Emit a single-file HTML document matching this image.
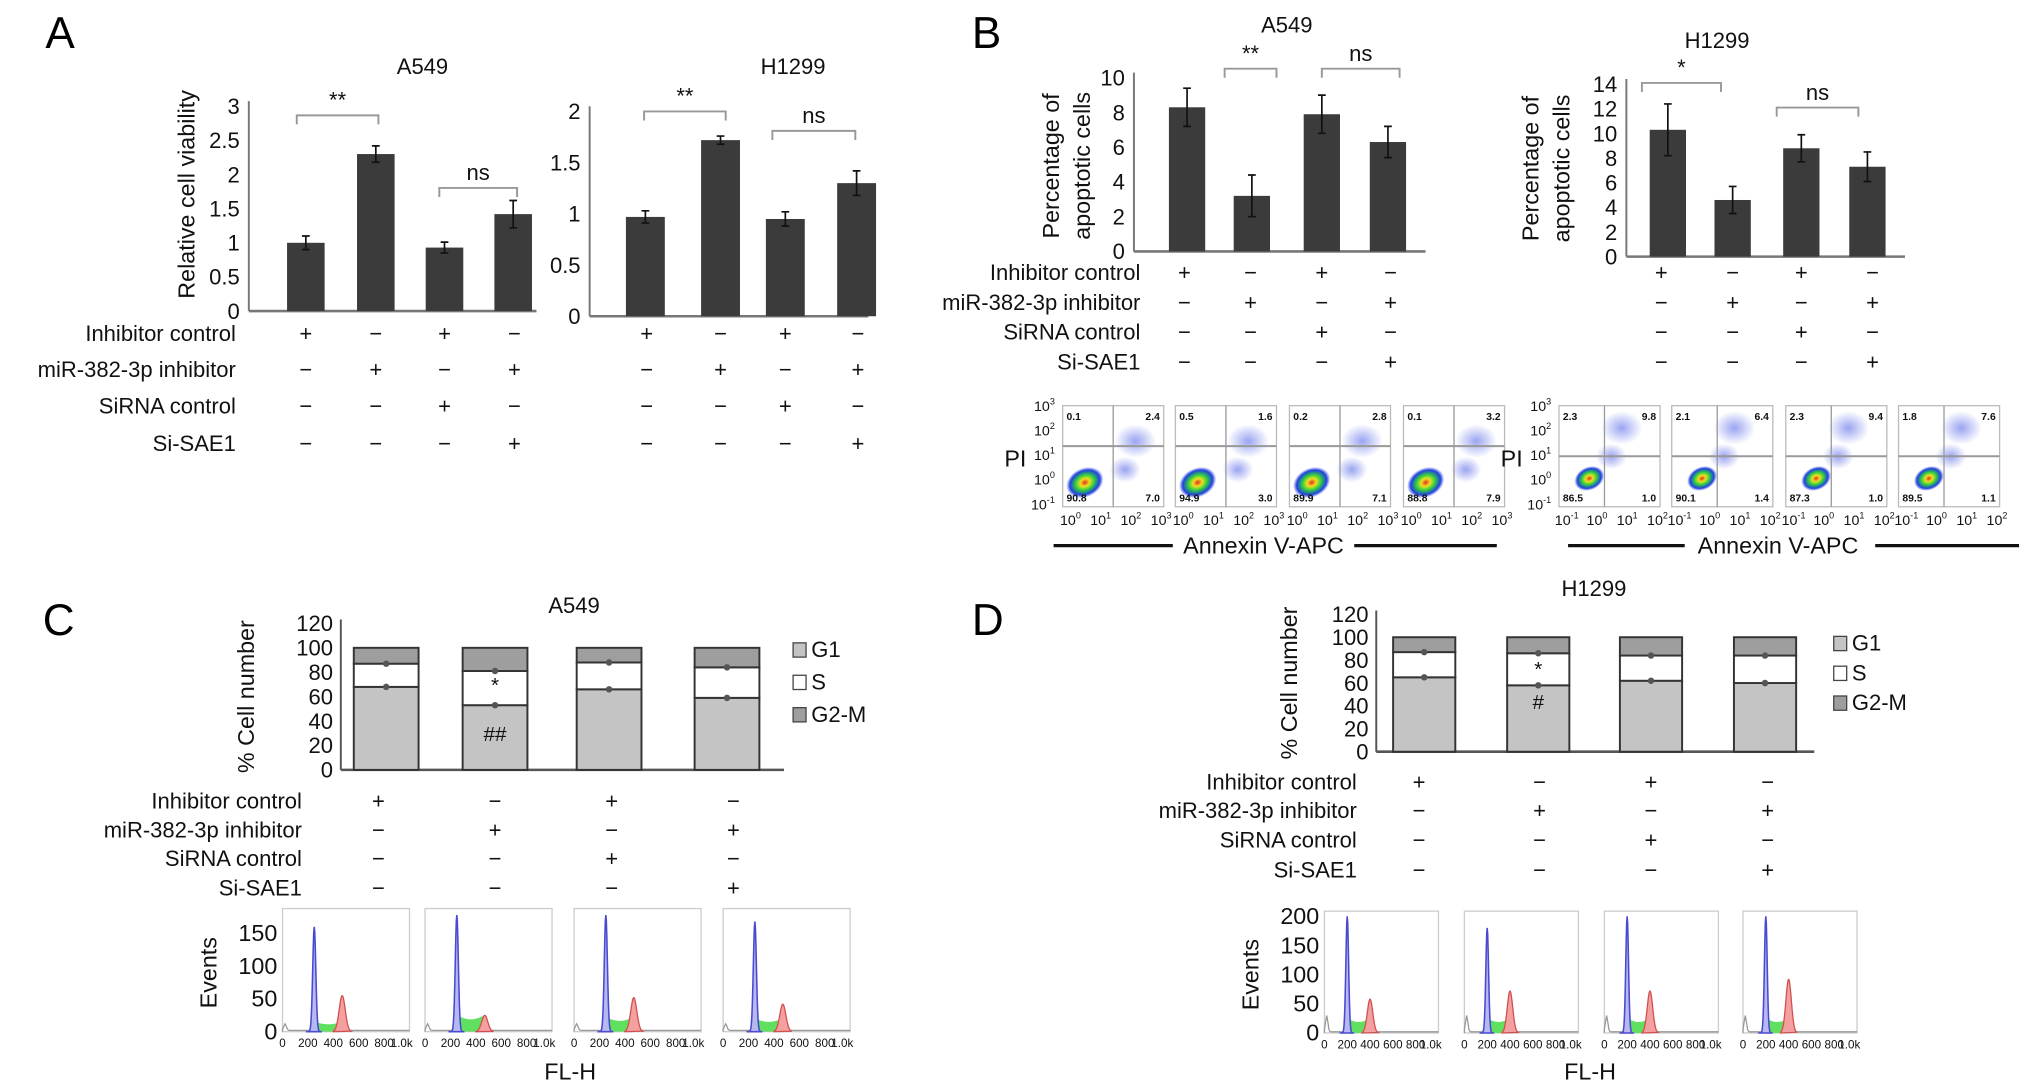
<!DOCTYPE html>
<html><head><meta charset="utf-8"><style>
html,body{margin:0;padding:0;background:#fff;}
svg{display:block;font-family:"Liberation Sans",Arial,sans-serif;}
</style></head><body>
<svg id="fig" width="2032" height="1090" viewBox="0 0 1568 841" preserveAspectRatio="none" xmlns="http://www.w3.org/2000/svg">
<text x="35" y="37" font-size="34">A</text>
<text x="750" y="37" font-size="34">B</text>
<text x="33" y="490" font-size="34">C</text>
<text x="750" y="490" font-size="34">D</text>
</svg>
<script>
// ---------- data ----------
const conditions = ['Inhibitor control','miR-382-3p inhibitor','SiRNA control','Si-SAE1'];
const signInhCtrl = ['+','−','+','−'];
const signMiR = ['−','+','−','+'];
const signSiCtrl = ['−','−','+','−'];
const signSiSAE1 = ['−','−','−','+'];

const aA549Vals = [1.0, 2.3, 0.93, 1.42];
const aA549Err = [0.1, 0.12, 0.08, 0.2];
const aA549Ticks = ['0','0.5','1','1.5','2','2.5','3'];
const aH1299Vals = [0.97, 1.72, 0.95, 1.3];
const aH1299Err = [0.06, 0.04, 0.07, 0.12];
const aH1299Ticks = ['0','0.5','1','1.5','2'];

const bA549Vals = [8.3, 3.2, 7.9, 6.3];
const bA549Err = [1.1, 1.2, 1.1, 0.9];
const bA549Ticks = ['0','2','4','6','8','10'];
const bH1299Vals = [10.3, 4.6, 8.8, 7.3];
const bH1299Err = [2.1, 1.1, 1.1, 1.2];
const bH1299Ticks = ['0','2','4','6','8','10','12','14'];

const bA549Quad = [[0.1,2.4,90.8,7.0],[0.5,1.6,94.9,3.0],[0.2,2.8,89.9,7.1],[0.1,3.2,88.8,7.9]];
const bH1299Quad = [[2.3,9.8,86.5,1.0],[2.1,6.4,90.1,1.4],[2.3,9.4,87.3,1.0],[1.8,7.6,89.5,1.1]];

const cG1 = [68, 53, 66, 59];
const cS = [19, 28, 22, 25];
const cG2M = [13, 19, 12, 16];
const dG1 = [65, 58, 62, 60];
const dS = [22, 28, 22, 24];
const dG2M = [13, 14, 16, 16];
const stackTicks = ['0','20','40','60','80','100','120'];

const cG1Peak = [160, 178, 178, 168];
const cG2Peak = [55, 25, 52, 42];
const cSLevel = [15, 25, 22, 20];
const dG1Peak = [200, 180, 200, 200];
const dG2Peak = [58, 72, 72, 92];
const dSLevel = [25, 25, 25, 25];
const cHistTicks = ['0','50','100','150'];
const dHistTicks = ['0','50','100','150','200'];
const histXTicks = ['0','200','400','600','800','1.0k'];

// ---------- helpers ----------
const NS = 'http://www.w3.org/2000/svg';
const svg = document.getElementById('fig');
function mk(tag, attrs, parent, name) {
  const e = document.createElementNS(NS, tag);
  for (const k in attrs) e.setAttribute(k, attrs[k]);
  
  
  (parent || svg).appendChild(e);
  return e;
}
function txt(x, y, s, size, anchor, parent, name, extra) {
  const t = mk('text', Object.assign({x: x, y: y, 'font-size': size, 'text-anchor': anchor || 'middle', fill: '#111'}, extra || {}), parent, name);
  t.textContent = s;
  return t;
}
function scale(d0, d1, r0, r1) { return v => r0 + (v - d0) / (d1 - d0) * (r1 - r0); }

function barChart(o) {
  const g = mk('g', {}, svg, o.name);
  const ys = scale(0, o.max, o.y0, o.yTop);
  mk('line', {x1: o.ax, y1: o.yTop - 4, x2: o.ax, y2: o.y0, stroke: '#777', 'stroke-width': 1.5}, g, 'y-axis');
  mk('line', {x1: o.ax, y1: o.y0, x2: o.axEnd, y2: o.y0, stroke: '#777', 'stroke-width': 2}, g, 'x-axis');
  o.ticks.forEach(t => txt(o.ax - 7, ys(parseFloat(t)) + 6, t, 17, 'end', g, 'y-tick-label'));
  o.vals.forEach((v, i) => {
    const cx = o.centers[i];
    mk('rect', {x: cx - o.bw / 2, y: ys(v), width: o.bw, height: o.y0 - ys(v), fill: '#3b3b3b'}, g, 'bar-' + (i + 1));
    const e = o.errs[i];
    mk('path', {d: `M${cx},${ys(v + e)}V${ys(v - e)}M${cx - 3},${ys(v + e)}H${cx + 3}M${cx - 3},${ys(v - e)}H${cx + 3}`, stroke: '#111', 'stroke-width': 1.3, fill: 'none'}, g, 'error-bar');
  });
  txt(o.titleX, o.titleY, o.title, 17, 'middle', g, 'chart-title');
  o.brackets.forEach(b => {
    mk('path', {d: `M${b[0]},${b[2] + 7}V${b[2]}H${b[1]}V${b[2] + 7}`, stroke: '#999', 'stroke-width': 1.5, fill: 'none'}, g, 'significance-bracket');
    txt((b[0] + b[1]) / 2, b[2] - 6, b[3], 17, 'middle', g, 'significance-label');
  });
  o.ylabel.forEach((l, i) => txt(0, 0, l, 18, 'middle', g, 'y-axis-title', {transform: `translate(${o.ylx + i * 24},${o.yly}) rotate(-90)`}));
  return g;
}
function signRows(o) {
  const g = mk('g', {}, svg, o.name);
  const rows = [signInhCtrl, signMiR, signSiCtrl, signSiSAE1];
  rows.forEach((r, ri) => {
    if (o.labelX) txt(o.labelX, o.rowY[ri] + 6, conditions[ri], 17, 'end', g, 'condition-label');
    r.forEach((s, i) => txt(o.centers[i], o.rowY[ri] + 6, s, 17, 'middle', g, 'condition-sign'));
  });
}
function stacked(o) {
  const g = mk('g', {}, svg, o.name);
  const ys = scale(0, 120, o.y0, o.yTop);
  mk('line', {x1: o.ax, y1: o.yTop - 3, x2: o.ax, y2: o.y0, stroke: '#555', 'stroke-width': 1.5}, g, 'y-axis');
  mk('line', {x1: o.ax, y1: o.y0, x2: o.axEnd, y2: o.y0, stroke: '#555', 'stroke-width': 2}, g, 'x-axis');
  stackTicks.forEach(t => txt(o.ax - 6, ys(+t) + 6, t, 17, 'end', g, 'y-tick-label'));
  o.g1.forEach((v, i) => {
    const cx = o.centers[i], x = cx - o.bw / 2;
    const segs = [[0, v, '#c4c4c4', 'g1'], [v, v + o.s[i], '#ffffff', 's'], [v + o.s[i], v + o.s[i] + o.g2[i], '#9e9e9e', 'g2m']];
    segs.forEach(sg => mk('rect', {x: x, y: ys(sg[1]), width: o.bw, height: ys(sg[0]) - ys(sg[1]), fill: sg[2], stroke: '#333', 'stroke-width': 1.5}, g, 'bar-' + sg[3] + '-' + (i + 1)));
    [v, v + o.s[i]].forEach(b => mk('circle', {cx: cx, cy: ys(b), r: 2.5, fill: '#555'}, g, 'error-marker'));
  });
  txt(o.titleX, o.titleY, o.title, 17, 'middle', g, 'chart-title');
  txt(0, 0, '% Cell number', 18, 'middle', g, 'y-axis-title', {transform: `translate(${o.ylx},${(o.y0 + o.yTop) / 2}) rotate(-90)`});
  [['G1', '#c4c4c4'], ['S', '#fff'], ['G2-M', '#9e9e9e']].forEach((l, i) => {
    mk('rect', {x: o.legX, y: o.legY + i * o.legGap - 6, width: 10, height: 11, fill: l[1], stroke: '#444'}, g, 'legend-swatch');
    txt(o.legX + 14, o.legY + i * o.legGap + 5, l[0], 17, 'start', g, 'legend-entry');
  });
  o.marks.forEach(m => txt(o.centers[1], ys(m[1]) + 6, m[0], 16, 'middle', g, 'significance-mark'));
}
function hist(o) {
  const g = mk('g', {}, svg, o.name);
  const yTicksScale = scale(0, o.max, o.yBot, o.yTop);
  o.ticks.forEach(t => txt(o.tickX, yTicksScale(+t) + 6, t, 18, 'end', g, 'y-tick-label'));
  txt(0, 0, 'Events', 18, 'middle', g, 'y-axis-title', {transform: `translate(${o.tickX - 47},${(o.yBot + o.yTop) / 2}) rotate(-90)`});
  o.boxes.forEach((bx, i) => {
    const xs = scale(0, 1000, bx, bx + o.bwid);
    const ys = scale(0, o.max, o.yBot, o.yTop);
    mk('rect', {x: bx, y: o.yTop - 4, width: o.bwid, height: o.yBot - o.yTop + 4, fill: '#fff', stroke: '#ccc'}, g, 'histogram-frame');
    const gauss = (x, mu, sd, h) => h * Math.exp(-0.5 * ((x - mu) / sd) ** 2);
    let sP = `M${xs(o.g1x + 10)},${ys(0)}`, g1P = `M${xs(o.g1x - 60)},${ys(0)}`, g2P = `M${xs(o.g2x - 70)},${ys(0)}`, gr = `M${xs(0)},${ys(0)}`;
    for (let x = o.g1x - 60; x <= o.g1x + 60; x += 4) g1P += `L${xs(x)},${ys(gauss(x, o.g1x, 12, o.g1[i]))}`;
    for (let x = o.g1x + 10; x <= o.g2x; x += 6) sP += `L${xs(x)},${ys(o.sl[i] * (1 - 0.25 * Math.sin((x - o.g1x) / (o.g2x - o.g1x) * Math.PI)))}`;
    sP += `L${xs(o.g2x)},${ys(0)}Z`;
    for (let x = o.g2x - 70; x <= o.g2x + 70; x += 4) g2P += `L${xs(x)},${ys(gauss(x, o.g2x, 24, o.g2[i]))}`;
    for (let x = 0; x <= 1000; x += 10) gr += `L${xs(x)},${ys(gauss(x, 20, 10, o.deb) + 2)}`;
    mk('path', {d: gr, stroke: '#999', fill: 'none', 'stroke-width': 1}, g, 'histogram-debris');
    mk('path', {d: sP, fill: '#5fe05f', stroke: 'none'}, g, 'histogram-s-phase');
    mk('path', {d: g2P + 'Z', fill: '#f4a0a0', stroke: '#d05050', 'stroke-width': 1}, g, 'histogram-g2m-peak');
    mk('path', {d: g1P + 'Z', fill: '#b8b8f0', stroke: '#4a4ad0', 'stroke-width': 1.2}, g, 'histogram-g1-peak');
    histXTicks.forEach((t, k) => txt(xs(k * 200) + (k === 5 ? -6 : 0), o.yBot + 12, t, 9, 'middle', g, 'x-tick-label'));
  });
  txt(o.flX, o.flY, 'FL-H', 18, 'middle', g, 'x-axis-title');
}
function flow(o) {
  const g = mk('g', {}, svg, o.name);
  const defs = mk('defs', {}, g, 'defs');
  const rg = mk('radialGradient', {id: o.name + '-grad'}, defs, 'gradient');
  [['0', '#e03020'], ['0.25', '#f0e020'], ['0.5', '#30d040'], ['0.8', '#2040e0'], ['1', 'rgba(60,80,240,0)']].forEach(s => mk('stop', {offset: s[0], 'stop-color': s[1]}, rg, 'gradient-stop'));
  const hz = mk('radialGradient', {id: o.name + '-haze'}, defs, 'gradient');
  [['0', 'rgba(70,90,230,0.55)'], ['1', 'rgba(70,90,230,0)']].forEach(s => mk('stop', {offset: s[0], 'stop-color': s[1]}, hz, 'gradient-stop'));
  const w = 78, h = 78;
  o.quads.forEach((q, i) => {
    const x = o.xs[i], y = o.y;
    mk('rect', {x: x, y: y, width: w, height: h, fill: '#fff', stroke: '#bbb'}, g, 'flow-plot-frame');
    mk('ellipse', {cx: x + o.hx * w, cy: y + o.hy * h, rx: 16, ry: 13, fill: `url(#${o.name}-haze)`}, g, 'flow-late-apoptotic-cluster');
    mk('ellipse', {cx: x + o.hx * w - 8, cy: y + o.hy * h + 22, rx: 12, ry: 10, fill: `url(#${o.name}-haze)`}, g, 'flow-early-cluster');
    mk('ellipse', {cx: x + o.lx * w, cy: y + o.ly * h, rx: o.lr, ry: o.lr * 0.75, fill: `url(#${o.name}-grad)`, transform: `rotate(-25 ${x + o.lx * w} ${y + o.ly * h})`}, g, 'flow-live-cluster');
    mk('line', {x1: x + o.vx * w, y1: y, x2: x + o.vx * w, y2: y + h, stroke: '#999'}, g, 'quadrant-vertical');
    mk('line', {x1: x, y1: y + o.hl * h, x2: x + w, y2: y + o.hl * h, stroke: '#999', 'stroke-width': 1.5}, g, 'quadrant-horizontal');
    txt(x + 3, y + 11, q[0].toFixed(1), 8, 'start', g, 'quadrant-ul-value', {'font-weight': 'bold'});
    txt(x + w - 3, y + 11, q[1].toFixed(1), 8, 'end', g, 'quadrant-ur-value', {'font-weight': 'bold'});
    txt(x + 3, y + h - 4, q[2].toFixed(1), 8, 'start', g, 'quadrant-ll-value', {'font-weight': 'bold'});
    txt(x + w - 3, y + h - 4, q[3].toFixed(1), 8, 'end', g, 'quadrant-lr-value', {'font-weight': 'bold'});
    o.xt.forEach((t, k) => {
      const tt = txt(x + 6 + k * (w - 8) / (o.xt.length - 1), y + h + 14, '10', 11, 'middle', g, 'x-tick-label');
      const sp = mk('tspan', {dy: -5, 'font-size': 7}, tt, 'exponent');
      sp.textContent = t;
    });
  });
  ['3', '2', '1', '0', '-1'].forEach((t, k) => {
    const tt = txt(o.xs[0] - 6, o.y + 4 + k * 19, '10', 11, 'end', g, 'y-tick-label');
    const sp = mk('tspan', {dy: -5, 'font-size': 7}, tt, 'exponent');
    sp.textContent = t;
  });
  txt(o.xs[0] - 28, o.y + 47, 'PI', 18, 'end', g, 'y-axis-title');
  txt(o.labX, o.y + 114, 'Annexin V-APC', 18, 'middle', g, 'x-axis-title');
  mk('line', {x1: o.l1[0], y1: o.y + 108, x2: o.l1[1], y2: o.y + 108, stroke: '#111', 'stroke-width': 2.5}, g, 'axis-rule-left');
  mk('line', {x1: o.l2[0], y1: o.y + 108, x2: o.l2[1], y2: o.y + 108, stroke: '#111', 'stroke-width': 2.5}, g, 'axis-rule-right');
}

// ---------- panel A ----------
barChart({name: 'a-a549-chart', ax: 192, axEnd: 414, y0: 240, yTop: 82, max: 3, ticks: aA549Ticks, centers: [236, 290, 343, 396], bw: 29,
  vals: aA549Vals, errs: aA549Err, title: 'A549', titleX: 326, titleY: 57,
  brackets: [[229, 292, 89, '**'], [339, 399, 145, 'ns']], ylabel: ['Relative cell viability'], ylx: 150, yly: 150});
barChart({name: 'a-h1299-chart', ax: 455, axEnd: 670, y0: 244, yTop: 86, max: 2, ticks: aH1299Ticks, centers: [498, 556, 606, 661], bw: 30,
  vals: aH1299Vals, errs: aH1299Err, title: 'H1299', titleX: 612, titleY: 57,
  brackets: [[497, 560, 86, '**'], [596, 660, 101, 'ns']], ylabel: [], ylx: 0, yly: 0});
signRows({name: 'a-a549-conditions', labelX: 182, rowY: [257, 285, 313, 342], centers: [236, 290, 343, 397]});
signRows({name: 'a-h1299-conditions', rowY: [257, 285, 313, 342], centers: [499, 556, 606, 662]});

// ---------- panel B ----------
barChart({name: 'b-a549-chart', ax: 875, axEnd: 1100, y0: 194, yTop: 60, max: 10, ticks: bA549Ticks, centers: [916, 966, 1020, 1071], bw: 28,
  vals: bA549Vals, errs: bA549Err, title: 'A549', titleX: 993, titleY: 25,
  brackets: [[945, 985, 53, '**'], [1020, 1080, 53, 'ns']], ylabel: ['Percentage of', 'apoptotic cells'], ylx: 817, yly: 128});
barChart({name: 'b-h1299-chart', ax: 1255, axEnd: 1470, y0: 198, yTop: 65, max: 14, ticks: bH1299Ticks, centers: [1287, 1337, 1390, 1441], bw: 28,
  vals: bH1299Vals, errs: bH1299Err, title: 'H1299', titleX: 1325, titleY: 37,
  brackets: [[1267, 1328, 64, '*'], [1371, 1434, 83, 'ns']], ylabel: ['Percentage of', 'apoptotic cells'], ylx: 1187, yly: 130});
signRows({name: 'b-a549-conditions', labelX: 880, rowY: [210, 233, 256, 279], centers: [914, 965, 1020, 1073]});
signRows({name: 'b-h1299-conditions', rowY: [210, 233, 256, 279], centers: [1282, 1337, 1390, 1445]});
flow({name: 'b-a549-flow', quads: bA549Quad, xs: [820, 907, 995, 1083], y: 313, hx: 0.72, hy: 0.35, lx: 0.22, ly: 0.76, lr: 15, vx: 0.5, hl: 0.4,
  xt: ['0', '1', '2', '3'], labX: 975, l1: [813, 905], l2: [1045, 1155]});
flow({name: 'b-h1299-flow', quads: bH1299Quad, xs: [1203, 1290, 1378, 1465], y: 313, hx: 0.62, hy: 0.22, lx: 0.3, ly: 0.72, lr: 12, vx: 0.45, hl: 0.5,
  xt: ['-1', '0', '1', '2'], labX: 1372, l1: [1210, 1300], l2: [1447, 1558]});

// ---------- panel C ----------
stacked({name: 'c-a549-stacked', ax: 263, axEnd: 605, y0: 594, yTop: 481, centers: [298, 382, 470, 561], bw: 50,
  g1: cG1, s: cS, g2: cG2M, title: 'A549', titleX: 443, titleY: 473, ylx: 196, legX: 612, legY: 502, legGap: 25,
  marks: [['*', 70], ['##', 30]]});
signRows({name: 'c-conditions', labelX: 233, rowY: [618, 640, 662, 685], centers: [292, 382, 472, 566]});
hist({name: 'c-histograms', boxes: [218, 328, 443, 558], bwid: 98, yTop: 705, yBot: 796, max: 180, ticks: cHistTicks, tickX: 214,
  g1: cG1Peak, g2: cG2Peak, sl: cSLevel, g1x: 250, g2x: 470, deb: 10, flX: 440, flY: 833});

// ---------- panel D ----------
stacked({name: 'd-h1299-stacked', ax: 1062, axEnd: 1400, y0: 580, yTop: 474, centers: [1099, 1187, 1274, 1362], bw: 48,
  g1: dG1, s: dS, g2: dG2M, title: 'H1299', titleX: 1230, titleY: 460, ylx: 1001, legX: 1415, legY: 497, legGap: 23,
  marks: [['*', 73], ['#', 44]]});
signRows({name: 'd-conditions', labelX: 1047, rowY: [603, 625, 648, 671], centers: [1095, 1188, 1274, 1364]});
hist({name: 'd-histograms', boxes: [1022, 1130, 1238, 1345], bwid: 88, yTop: 707, yBot: 797, max: 200, ticks: dHistTicks, tickX: 1018,
  g1: dG1Peak, g2: dG2Peak, sl: dSLevel, g1x: 200, g2x: 400, deb: 28, flX: 1227, flY: 833});
</script>
</body></html>
